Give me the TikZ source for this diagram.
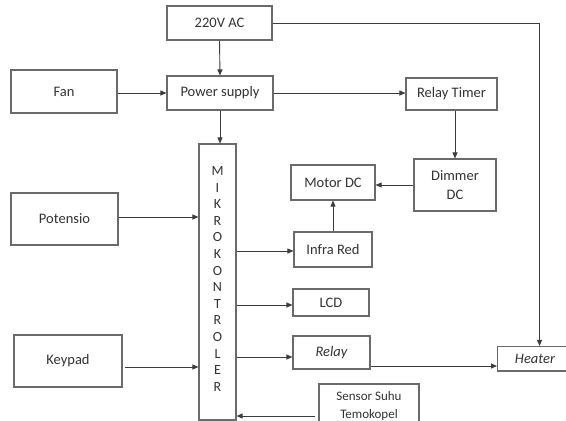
\documentclass[tikz,border=0pt]{standalone}
\usepackage{fontspec}
\setmainfont{Carlito}
\usetikzlibrary{arrows.meta}
\definecolor{ln}{HTML}{3C3C3C}
\definecolor{bx}{HTML}{6A6A6A}
\definecolor{tx}{HTML}{333333}
\begin{document}
\begin{tikzpicture}[x=1pt,y=-1pt,
  box/.style={draw=bx,line width=1.1pt,fill=white,inner sep=0pt,text=tx,font=\fontsize{14.5}{17}\selectfont,align=center},
  lbl/.style={text=tx,inner sep=0pt,align=center},
  arr/.style={draw=ln,line width=0.9pt,-{Triangle[length=6pt,width=5pt]}},
  ]
\useasboundingbox (0,0) rectangle (566,421);
\clip (0,0) rectangle (566,421);
\node[box,minimum width=105pt,minimum height=34pt] (ac) at (219.5,23) {220V AC};
\node[box,minimum width=106pt,minimum height=43pt] (fan) at (64,91.5) {Fan};
\node[box,minimum width=106pt,minimum height=34pt] (ps) at (220,93) {Power supply};
\node[box,minimum width=91pt,minimum height=32pt] (rt) at (451.5,94) {Relay Timer};
\node[box,minimum width=37pt,minimum height=276pt] (mk) at (217.5,282) {};
\node[lbl,font=\fontsize{14}{16.6}\selectfont] (mkt) at (217.5,279)
  {M\\I\\K\\R\\O\\K\\O\\N\\T\\R\\O\\L\\E\\R};
\node[box,minimum width=84pt,minimum height=35pt] (motor) at (333,182.5) {Motor DC};
\node[box,minimum width=82pt,minimum height=52pt,font=\fontsize{14.5}{19}\selectfont] (dim) at (455,185) {Dimmer\\DC};
\node[box,minimum width=107pt,minimum height=52pt] (pot) at (64.5,219) {Potensio};
\node[box,minimum width=78pt,minimum height=35pt] (ir) at (333,249.5) {Infra Red};
\node[box,minimum width=76pt,minimum height=27pt] (lcd) at (331,302.5) {LCD};
\node[box,minimum width=77pt,minimum height=33pt] (relay) at (331.5,352.5) {\itshape Relay};
\node[box,minimum width=90pt,minimum height=24.5pt,anchor=west] (heat) at (497,358.75) {};
\node[lbl,font=\fontsize{14.5}{17}\selectfont\itshape] (heatt) at (535,358.75) {Heater};
\node[box,minimum width=108pt,minimum height=52pt] (key) at (68,361) {Keypad};
\node[box,minimum width=100pt,minimum height=60pt] (sen) at (369,414) {};
\node[lbl,font=\fontsize{13}{18}\selectfont] (sent) at (369,406) {Sensor Suhu\\Temokopel};
\coordinate (kp) at (125,367);
\coordinate (sp) at (315,416);
% connectors
\draw[arr] (ac.south) -- (ps.north);
\draw[arr] (fan.east |- ps) -- (ps.west);
\draw[arr] (ps.east) -- (ps.east -| rt.west);
\draw[arr] (ac.east) -| ([xshift=-3pt]heat.north);
\draw[arr] (ps.south) -- (ps.south |- mk.north);
\draw[arr] ([xshift=3.5pt]rt.south) -- ([xshift=3.5pt]rt.south |- dim.north);
\draw[arr] (dim.west) -- (dim.west -| motor.east);
\draw[arr] (ir.north) -- (motor.south);
\draw[arr] ([yshift=2pt]pot.east) -- ([yshift=2pt]pot.east -| mk.west);
\draw[arr] ([yshift=-1.5pt]ir.west -| mk.east) -- ([yshift=-1.5pt]ir.west);
\draw[arr] ([yshift=-2.5pt]lcd.west -| mk.east) -- ([yshift=-2.5pt]lcd.west);
\draw[arr] ([yshift=-4.5pt]relay.west -| mk.east) -- ([yshift=-4.5pt]relay.west);
\draw[arr] ([yshift=-13.5pt]relay.east) -- ([yshift=-13.5pt]relay.east -| heat.west);
\draw[arr] (kp) -- (kp -| mk.west);
\draw[arr] (sp) -- (sp -| mk.east);
\end{tikzpicture}
\end{document}
